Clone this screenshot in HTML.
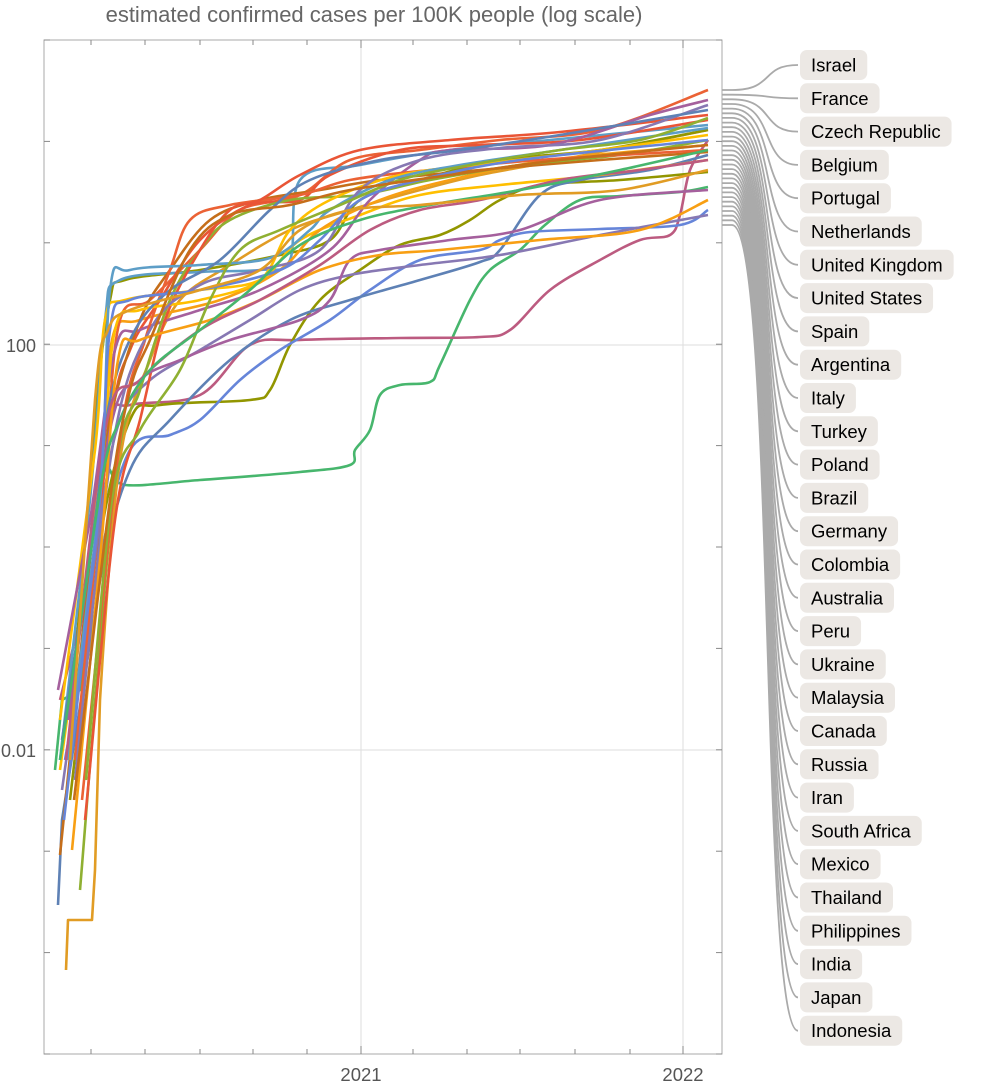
<!DOCTYPE html>
<html><head><meta charset="utf-8"><style>
body{margin:0;background:#fff}
svg{display:block;font-family:"Liberation Sans",sans-serif}
</style></head><body>
<svg id="s" width="1000" height="1092" viewBox="0 0 1000 1092">
<text x="374" y="22" font-size="22" fill="#666" text-anchor="middle">estimated confirmed cases per 100K people (log scale)</text>
<g stroke="#ddd" stroke-width="1">
<line x1="361" y1="40" x2="361" y2="1054"/><line x1="683" y1="40" x2="683" y2="1054"/>
<line x1="44" y1="345" x2="722" y2="345"/><line x1="44" y1="750" x2="722" y2="750"/>
</g>
<rect x="44" y="40" width="678" height="1014" fill="none" stroke="#aaa" stroke-width="1"/>
<g id="ticks" stroke="#888" stroke-width="1"></g>
<text x="36" y="352" font-size="18" fill="#555" text-anchor="end">100</text>
<text x="36" y="757" font-size="18" fill="#555" text-anchor="end">0.01</text>
<text x="361" y="1081" font-size="18.5" fill="#555" text-anchor="middle">2021</text>
<text x="683" y="1081" font-size="18.5" fill="#555" text-anchor="middle">2022</text>
<g id="series" fill="none" stroke-width="2.6" stroke-linejoin="round"></g>
<g id="leaders" fill="none" stroke="#aaa" stroke-width="1.8"></g>
<g id="labels"></g>
</svg>
<script>
var NS="http://www.w3.org/2000/svg";
function el(t,a,p){var e=document.createElementNS(NS,t);for(var k in a)e.setAttribute(k,a[k]);p.appendChild(e);return e;}
var tk=document.getElementById('ticks');
[91,145,200,253,307,361,413,467,520,575,630,683].forEach(function(x){var l=(x==361||x==683)?8:5;el('line',{x1:x,y1:1054,x2:x,y2:1054-l},tk);el('line',{x1:x,y1:40,x2:x,y2:40+l},tk);});
for(var i=0;i<=10;i++){var y=40+i*101.4;el('line',{x1:44,y1:y,x2:50,y2:y},tk);el('line',{x1:722,y1:y,x2:716,y2:y},tk);}
var C=["#5E81B5","#E19C24","#8FB032","#EB6235","#8778B3","#C56E1A","#5D9EC7","#FFBF00","#A5609D","#929600","#E95536","#6685D9","#F89F13","#BC5B80","#47B66D"];
var S=[
[14,[[55,770],[62,700],[80,690],[95,560],[105,470],[125,485],[200,480],[300,472],[350,465],[355,450],[370,430],[380,395],[400,385],[430,382],[440,365],[470,300],[490,270],[520,250],[545,225],[580,200],[620,196],[680,192],[708,187]]],
[13,[[60,700],[65,680],[95,560],[110,420],[130,405],[200,395],[250,345],[300,340],[400,338],[480,337],[510,330],[550,290],[600,260],[640,240],[670,235],[680,215],[690,170],[708,140]]],
[9,[[70,800],[100,540],[130,420],[160,405],[250,400],[270,390],[290,345],[320,300],[360,270],[400,245],[440,235],[470,220],[500,200],[540,185],[620,180],[708,172]]],
[11,[[65,760],[100,560],[130,450],[170,435],[200,420],[240,380],[280,350],[330,320],[370,290],[420,260],[480,250],[500,240],[530,232],[600,229],[680,225],[708,210]]],
[0,[[58,905],[62,820],[100,580],[130,470],[170,420],[230,360],[290,320],[350,300],[420,280],[480,262],[500,250],[540,195],[580,180],[650,170],[708,155]]],
[1,[[66,970],[68,920],[92,920],[95,870],[100,700],[120,460],[150,360],[180,300],[230,265],[290,230],[350,210],[420,190],[480,175],[560,160],[708,130]]],
[9,[[72,700],[95,420],[110,300],[125,280],[200,270],[280,255],[330,240],[360,200],[420,180],[500,160],[600,150],[708,130]]],
[6,[[60,760],[90,500],[105,320],[120,280],[200,272],[260,270],[290,260],[300,180],[360,165],[450,150],[550,140],[708,125]]],
[7,[[60,720],[95,450],[105,320],[125,300],[200,290],[260,280],[300,240],[360,215],[420,195],[500,185],[600,175],[708,160]]],
[12,[[70,760],[100,500],[112,340],[140,320],[220,300],[280,270],[320,230],[380,200],[450,180],[550,160],[708,145]]],
[3,[[75,760],[105,460],[120,320],[150,300],[200,250],[240,210],[300,195],[350,160],[420,150],[500,140],[600,130],[708,90]]],
[10,[[70,760],[110,430],[130,350],[160,300],[200,240],[250,205],[300,200],[330,175],[400,150],[480,145],[580,140],[708,120]]],
[8,[[58,690],[90,520],[115,350],[140,330],[200,310],[260,290],[330,250],[370,200],[420,160],[450,150],[550,145],[650,115],[708,100]]],
[4,[[62,790],[100,520],[120,420],[150,380],[200,350],[250,320],[300,290],[350,275],[420,265],[500,255],[600,235],[708,215]]],
[5,[[60,855],[90,560],[110,420],[140,320],[170,270],[210,220],[260,200],[320,190],[380,180],[480,170],[600,160],[708,152]]],
[2,[[80,890],[115,480],[140,390],[170,300],[200,250],[230,220],[290,200],[360,195],[430,180],[520,165],[620,155],[708,140]]],
[3,[[82,800],[120,440],[145,340],[170,270],[190,220],[230,205],[300,195],[350,180],[430,170],[540,160],[708,150]]],
[10,[[85,820],[115,520],[140,420],[165,320],[200,250],[230,210],[260,200],[300,175],[360,150],[450,140],[560,132],[708,115]]],
[7,[[60,770],[100,480],[115,330],[140,310],[200,300],[260,280],[290,230],[330,200],[400,175],[500,162],[600,150],[708,135]]],
[6,[[68,760],[100,500],[110,290],[130,270],[200,265],[270,258],[310,230],[330,210],[390,180],[460,165],[560,150],[708,128]]],
[8,[[68,720],[110,430],[140,380],[180,360],[230,340],[300,320],[330,300],[350,260],[380,250],[450,240],[520,230],[600,200],[708,190]]],
[4,[[75,780],[112,450],[150,330],[200,285],[260,270],[320,250],[360,190],[420,160],[500,148],[600,140],[708,105]]],
[0,[[62,740],[95,520],[110,400],[135,330],[170,290],[220,260],[270,210],[310,180],[380,160],[460,150],[560,135],[708,110]]],
[12,[[72,850],[100,560],[118,360],[140,340],[210,320],[260,300],[320,270],[380,255],[440,250],[540,240],[640,230],[708,200]]],
[2,[[86,780],[112,500],[140,430],[180,370],[210,300],[240,250],[280,230],[340,205],[400,180],[470,165],[560,150],[640,140],[708,118]]],
[13,[[66,760],[105,430],[140,380],[200,330],[260,300],[320,265],[370,230],[420,210],[480,200],[560,180],[640,170],[708,160]]],
[11,[[64,820],[98,520],[110,330],[130,300],[200,290],[280,270],[320,240],[360,200],[420,180],[520,160],[708,140]]],
[14,[[60,760],[100,490],[120,420],[150,370],[200,330],[250,290],[300,245],[360,220],[430,205],[520,190],[620,170],[708,150]]],
[5,[[74,800],[110,500],[130,390],[150,340],[190,250],[230,215],[290,205],[350,190],[450,175],[560,160],[708,145]]],
[1,[[70,760],[95,400],[108,330],[130,310],[200,290],[260,270],[300,230],[350,210],[420,205],[520,195],[620,190],[708,170]]]
];
function path(p){var d="M"+p[0][0]+","+p[0][1];for(var i=0;i<p.length-1;i++){var p0=p[i-1]||p[i],p1=p[i],p2=p[i+1],p3=p[i+2]||p2;
if(p2[0]<=100){d+=" L"+p2[0]+","+p2[1];continue;}
d+=" C"+(p1[0]+(p2[0]-p0[0])/6).toFixed(1)+","+(p1[1]+(p2[1]-p0[1])/6).toFixed(1)+" "+(p2[0]-(p3[0]-p1[0])/6).toFixed(1)+","+(p2[1]-(p3[1]-p1[1])/6).toFixed(1)+" "+p2[0]+","+p2[1];}return d;}
var sg=document.getElementById('series');
S.forEach(function(s){el('path',{d:path(s[1]),stroke:C[s[0]]},sg);});
var names=["Israel","France","Czech Republic","Belgium","Portugal","Netherlands","United Kingdom","United States","Spain","Argentina","Italy","Turkey","Poland","Brazil","Germany","Colombia","Australia","Peru","Ukraine","Malaysia","Canada","Russia","Iran","South Africa","Mexico","Thailand","Philippines","India","Japan","Indonesia"];
var lg=document.getElementById('leaders'),lb=document.getElementById('labels');
names.forEach(function(n,i){var ly=65+i*33.3;var ey=90+i*(135/29);
el('path',{d:"M722,"+ey.toFixed(1)+" L732,"+ey.toFixed(1)+" C775,"+ey.toFixed(1)+" 760,"+ly.toFixed(1)+" 798,"+ly.toFixed(1)},lg);
var r=el('rect',{x:800,y:ly-15,height:30,rx:7,fill:"#ECE8E4"},lb);
var t=el('text',{x:811,y:ly+6.5,"font-size":18.5,fill:"#000"},lb);t.textContent=n;
r.setAttribute('width',t.getComputedTextLength()+22);});
</script>
</body></html>
